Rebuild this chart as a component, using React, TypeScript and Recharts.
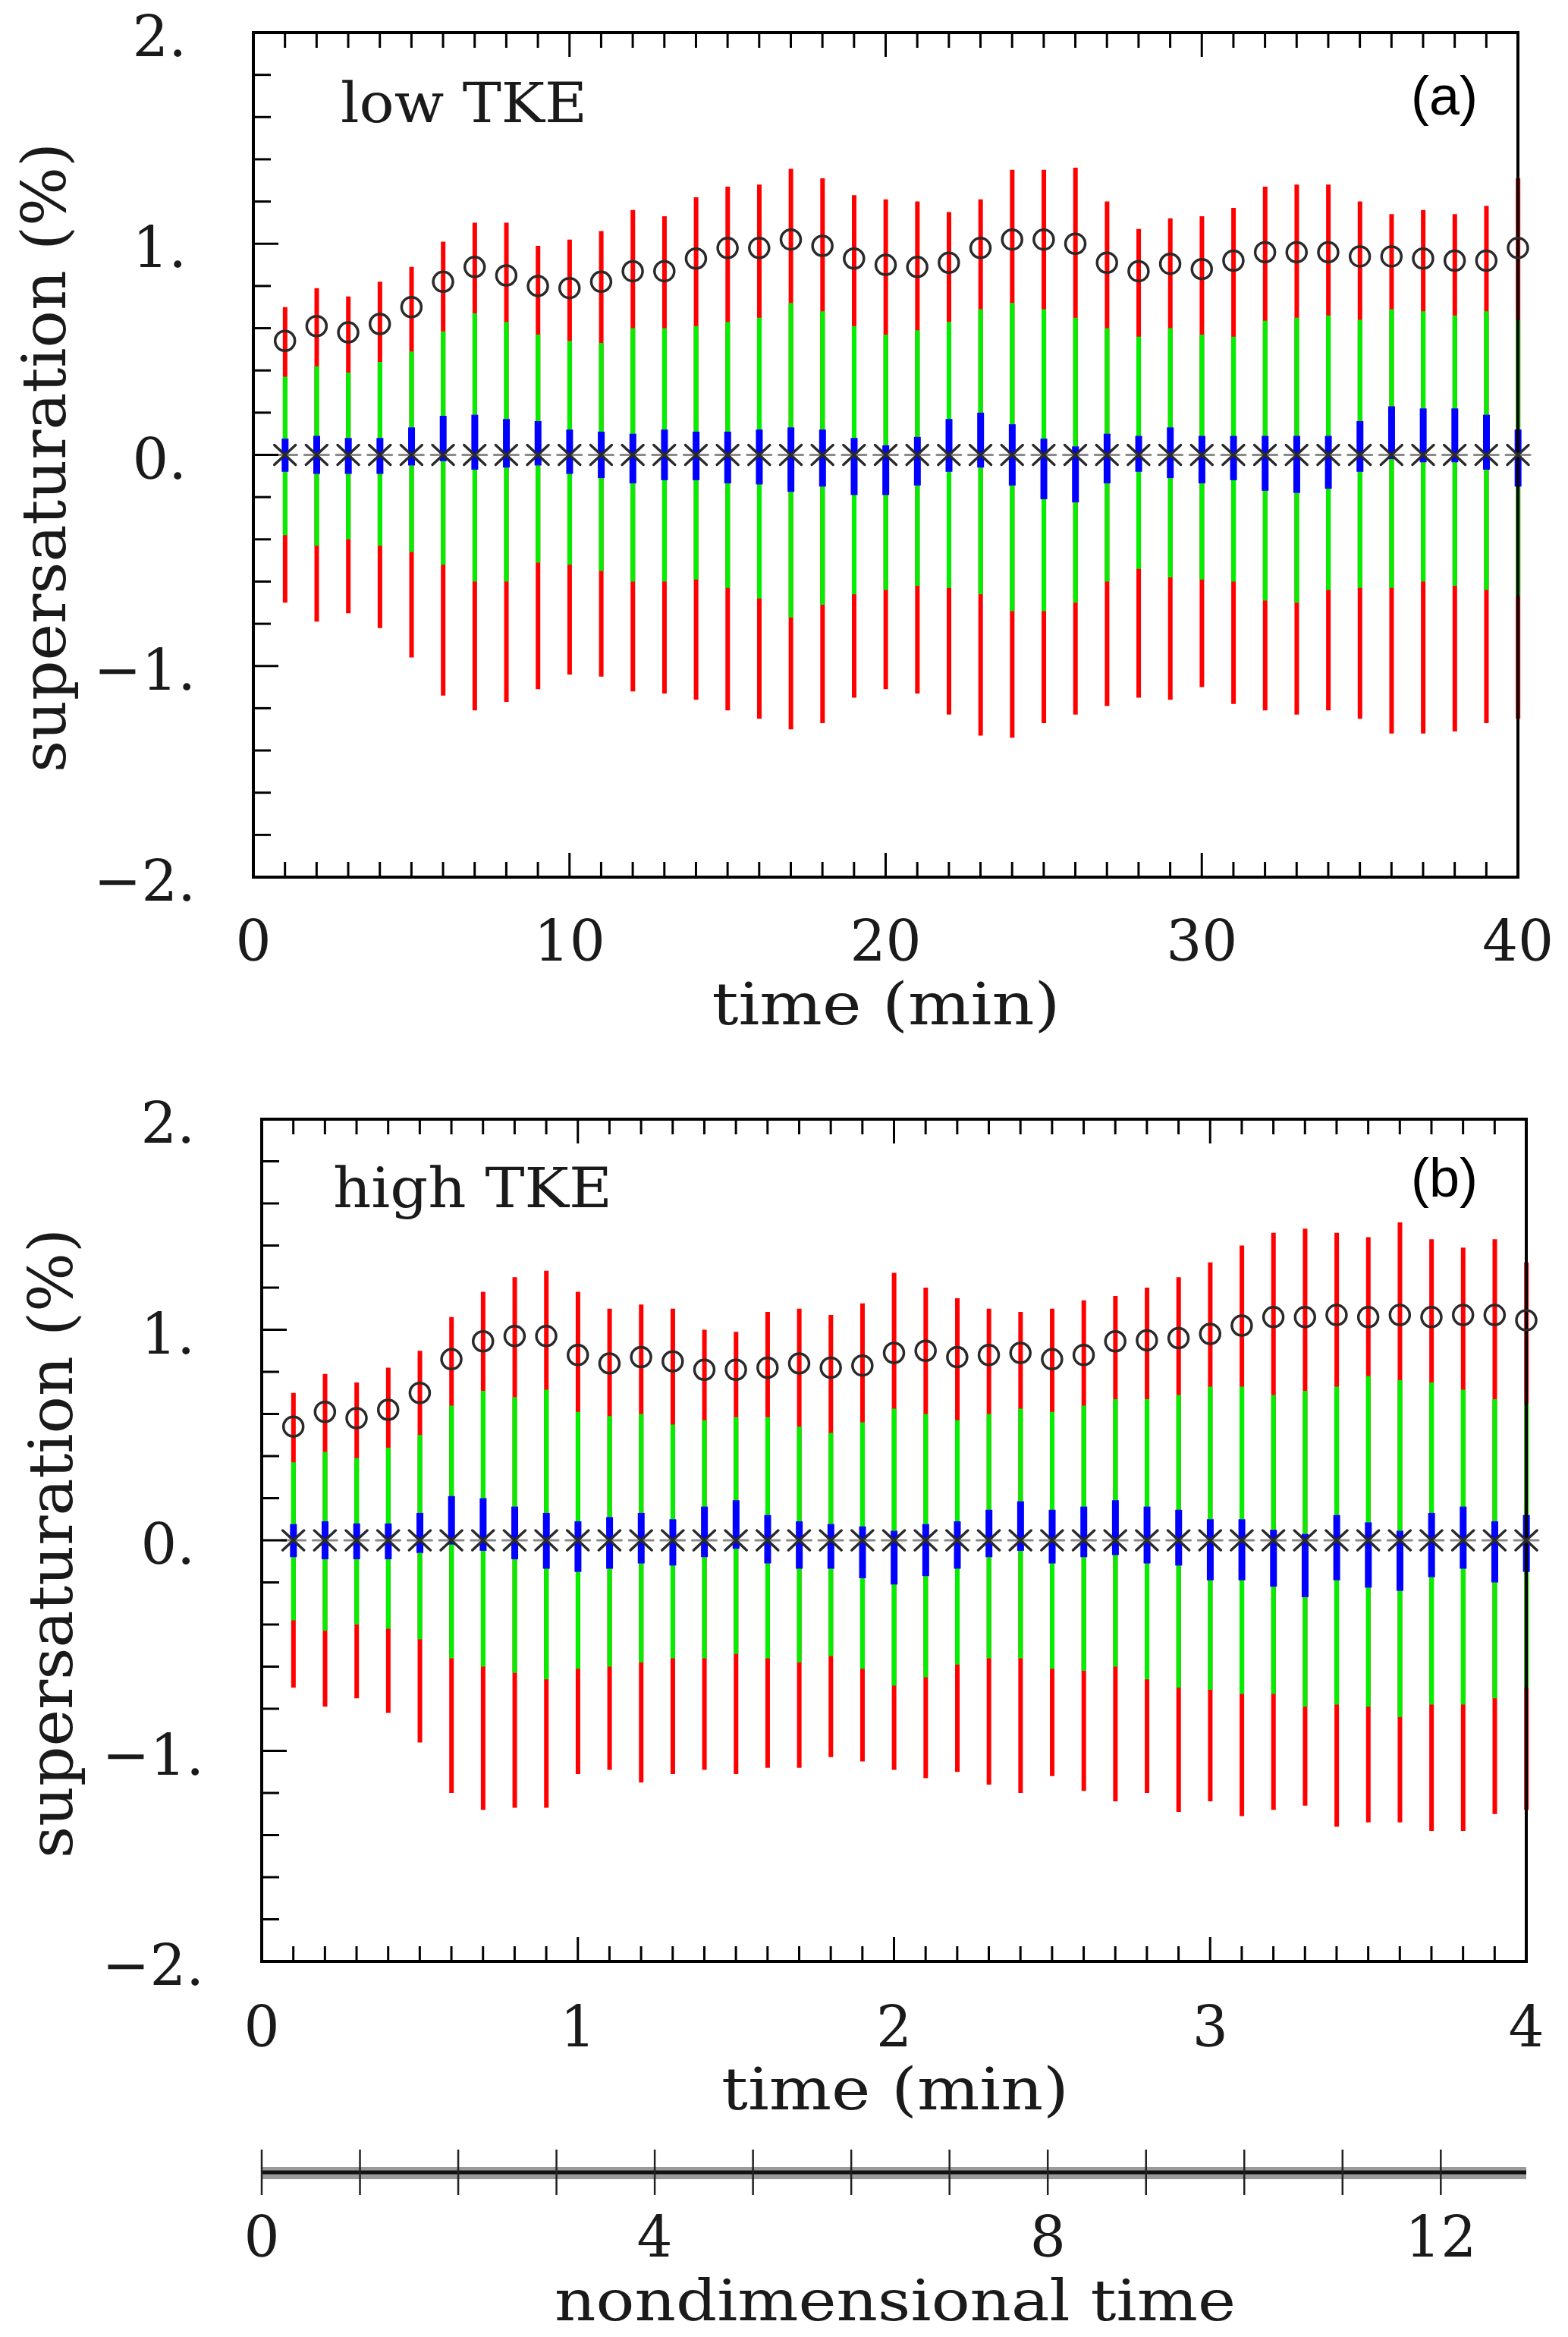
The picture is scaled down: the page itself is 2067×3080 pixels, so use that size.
import React from "react";
import { ComposedChart, Bar, Scatter, XAxis, YAxis } from "recharts";

// ---- panel (a): low TKE, time in minutes ----
const timeA = [1, 2, 3, 4, 5, 6, 7, 8, 9, 10, 11, 12, 13, 14, 15, 16, 17, 18, 19, 20,
  21, 22, 23, 24, 25, 26, 27, 28, 29, 30, 31, 32, 33, 34, 35, 36, 37, 38, 39, 40];
const redHighA = [0.7, 0.79, 0.75, 0.82, 0.89, 1.01, 1.1, 1.1, 0.99, 1.02, 1.06, 1.16, 1.13, 1.22, 1.27, 1.28, 1.355, 1.31, 1.23, 1.21,
  1.2, 1.15, 1.21, 1.35, 1.35, 1.36, 1.2, 1.07, 1.12, 1.13, 1.17, 1.27, 1.28, 1.28, 1.2, 1.14, 1.16, 1.14, 1.18, 1.31];
const greenHighA = [0.37, 0.42, 0.39, 0.44, 0.49, 0.585, 0.67, 0.63, 0.57, 0.54, 0.53, 0.6, 0.6, 0.61, 0.63, 0.65, 0.72, 0.68, 0.61, 0.57,
  0.59, 0.63, 0.69, 0.72, 0.69, 0.65, 0.6, 0.56, 0.6, 0.57, 0.56, 0.635, 0.65, 0.66, 0.64, 0.69, 0.68, 0.66, 0.68, 0.64];
const blueHighA = [0.077, 0.09, 0.08, 0.08, 0.13, 0.185, 0.19, 0.17, 0.16, 0.12, 0.11, 0.1, 0.12, 0.11, 0.11, 0.12, 0.13, 0.12, 0.08, 0.045,
  0.085, 0.17, 0.2, 0.145, 0.077, 0.04, 0.1, 0.09, 0.13, 0.09, 0.09, 0.09, 0.09, 0.09, 0.16, 0.23, 0.22, 0.22, 0.19, 0.12];
const blueLowA = [-0.08, -0.09, -0.09, -0.09, -0.05, -0.03, -0.07, -0.06, -0.05, -0.09, -0.11, -0.135, -0.12, -0.12, -0.135, -0.14, -0.175, -0.15, -0.19, -0.19,
  -0.145, -0.08, -0.06, -0.145, -0.21, -0.225, -0.135, -0.08, -0.11, -0.135, -0.12, -0.17, -0.18, -0.16, -0.08, -0.02, -0.035, -0.035, -0.07, -0.15];
const greenLowA = [-0.38, -0.43, -0.4, -0.43, -0.46, -0.52, -0.6, -0.6, -0.51, -0.52, -0.55, -0.6, -0.6, -0.59, -0.63, -0.68, -0.77, -0.71, -0.66, -0.64,
  -0.62, -0.63, -0.66, -0.74, -0.74, -0.7, -0.6, -0.54, -0.58, -0.59, -0.6, -0.69, -0.7, -0.64, -0.63, -0.63, -0.6, -0.62, -0.64, -0.67];
const redLowA = [-0.7, -0.79, -0.75, -0.82, -0.96, -1.14, -1.21, -1.17, -1.11, -1.04, -1.05, -1.12, -1.13, -1.16, -1.21, -1.25, -1.3, -1.27, -1.15, -1.11,
  -1.13, -1.23, -1.33, -1.34, -1.27, -1.23, -1.19, -1.15, -1.16, -1.1, -1.18, -1.21, -1.23, -1.21, -1.25, -1.32, -1.32, -1.31, -1.27, -1.25];
const medianA = [0, 0, 0, 0, 0, 0, 0, 0, 0, 0, 0, 0, 0, 0, 0, 0, 0, 0, 0, 0,
  0, 0, 0, 0, 0, 0, 0, 0, 0, 0, 0, 0, 0, 0, 0, 0, 0, 0, 0, 0];
const circleA = [0.54, 0.61, 0.58, 0.62, 0.7, 0.82, 0.89, 0.85, 0.8, 0.79, 0.82, 0.87, 0.87, 0.93, 0.98, 0.98, 1.02, 0.99, 0.93, 0.9,
  0.89, 0.91, 0.98, 1.02, 1.02, 1.0, 0.91, 0.87, 0.905, 0.88, 0.92, 0.96, 0.96, 0.96, 0.94, 0.94, 0.93, 0.92, 0.92, 0.98];

// ---- panel (b): high TKE ----
const timeB = [0.1, 0.2, 0.3, 0.4, 0.5, 0.6, 0.7, 0.8, 0.9, 1.0, 1.1, 1.2, 1.3, 1.4, 1.5, 1.6, 1.7, 1.8, 1.9, 2.0,
  2.1, 2.2, 2.3, 2.4, 2.5, 2.6, 2.7, 2.8, 2.9, 3.0, 3.1, 3.2, 3.3, 3.4, 3.5, 3.6, 3.7, 3.8, 3.9, 4.0];
const redHighB = [0.7, 0.79, 0.75, 0.82, 0.9, 1.06, 1.18, 1.25, 1.28, 1.18, 1.1, 1.12, 1.1, 1.0, 0.99, 1.085, 1.1, 1.07, 1.125, 1.27,
  1.2, 1.15, 1.1, 1.085, 1.1, 1.14, 1.16, 1.2, 1.25, 1.32, 1.4, 1.46, 1.48, 1.46, 1.44, 1.51, 1.43, 1.39, 1.43, 1.32];
const greenHighB = [0.37, 0.42, 0.39, 0.44, 0.5, 0.64, 0.71, 0.68, 0.715, 0.61, 0.59, 0.6, 0.55, 0.57, 0.585, 0.585, 0.54, 0.51, 0.56, 0.625,
  0.6, 0.57, 0.6, 0.625, 0.61, 0.64, 0.67, 0.67, 0.69, 0.73, 0.73, 0.69, 0.71, 0.73, 0.78, 0.76, 0.75, 0.715, 0.67, 0.65];
const blueHighB = [0.077, 0.09, 0.08, 0.08, 0.13, 0.21, 0.2, 0.16, 0.13, 0.09, 0.11, 0.13, 0.1, 0.16, 0.19, 0.12, 0.09, 0.077, 0.066, 0.045,
  0.077, 0.09, 0.145, 0.185, 0.145, 0.16, 0.19, 0.16, 0.145, 0.1, 0.1, 0.05, 0.03, 0.12, 0.085, 0.045, 0.13, 0.16, 0.09, 0.12];
const blueLowB = [-0.08, -0.09, -0.09, -0.09, -0.06, -0.02, -0.05, -0.09, -0.135, -0.15, -0.135, -0.11, -0.12, -0.08, -0.04, -0.11, -0.135, -0.135, -0.18, -0.21,
  -0.17, -0.135, -0.08, -0.05, -0.11, -0.08, -0.07, -0.11, -0.12, -0.19, -0.19, -0.22, -0.27, -0.19, -0.225, -0.24, -0.175, -0.135, -0.2, -0.15];
const greenLowB = [-0.38, -0.43, -0.4, -0.42, -0.47, -0.56, -0.6, -0.63, -0.66, -0.61, -0.6, -0.58, -0.56, -0.56, -0.54, -0.56, -0.58, -0.55, -0.61, -0.69,
  -0.65, -0.59, -0.56, -0.56, -0.61, -0.62, -0.6, -0.66, -0.7, -0.71, -0.73, -0.73, -0.79, -0.78, -0.79, -0.84, -0.78, -0.78, -0.75, -0.7];
const redLowB = [-0.7, -0.79, -0.75, -0.82, -0.96, -1.2, -1.28, -1.27, -1.27, -1.11, -1.09, -1.15, -1.11, -1.09, -1.11, -1.08, -1.08, -1.03, -1.05, -1.09,
  -1.13, -1.1, -1.16, -1.2, -1.12, -1.19, -1.24, -1.2, -1.29, -1.24, -1.31, -1.28, -1.26, -1.36, -1.34, -1.34, -1.38, -1.38, -1.3, -1.28];
const medianB = [0, 0, 0, 0, 0, 0, 0, 0, 0, 0, 0, 0, 0, 0, 0, 0, 0, 0, 0, 0,
  0, 0, 0, 0, 0, 0, 0, 0, 0, 0, 0, 0, 0, 0, 0, 0, 0, 0, 0, 0];
const circleB = [0.54, 0.61, 0.58, 0.62, 0.7, 0.86, 0.945, 0.97, 0.97, 0.88, 0.84, 0.87, 0.85, 0.81, 0.81, 0.82, 0.84, 0.82, 0.83, 0.89,
  0.9, 0.87, 0.88, 0.89, 0.86, 0.88, 0.945, 0.95, 0.96, 0.98, 1.02, 1.06, 1.06, 1.07, 1.06, 1.07, 1.06, 1.07, 1.07, 1.045];

// ---- ticks and tick labels ----
const yTicks = [-2, -1.8, -1.6, -1.4, -1.2, -1, -0.8, -0.6, -0.4, -0.2, 0, 0.2, 0.4, 0.6, 0.8, 1, 1.2, 1.4, 1.6, 1.8, 2];
const yLabelValues = [-2, -1, 0, 1, 2];
const yLabelTexts = ["\u22122.", "\u22121.", "0.", "1.", "2."];

const xTicksA = [0, 1, 2, 3, 4, 5, 6, 7, 8, 9, 10, 11, 12, 13, 14, 15, 16, 17, 18, 19, 20,
  21, 22, 23, 24, 25, 26, 27, 28, 29, 30, 31, 32, 33, 34, 35, 36, 37, 38, 39, 40];
const xLabelValuesA = [0, 10, 20, 30, 40];
const xLabelTextsA = ["0", "10", "20", "30", "40"];

const xTicksB = [0, 0.1, 0.2, 0.3, 0.4, 0.5, 0.6, 0.7, 0.8, 0.9, 1, 1.1, 1.2, 1.3, 1.4, 1.5, 1.6, 1.7, 1.8, 1.9, 2,
  2.1, 2.2, 2.3, 2.4, 2.5, 2.6, 2.7, 2.8, 2.9, 3, 3.1, 3.2, 3.3, 3.4, 3.5, 3.6, 3.7, 3.8, 3.9, 4];
const xLabelValuesB = [0, 1, 2, 3, 4];
const xLabelTextsB = ["0", "1", "2", "3", "4"];

const nondimTicks = [0, 1, 2, 3, 4, 5, 6, 7, 8, 9, 10, 11, 12];
const nondimLabelValues = [0, 4, 8, 12];
const nondimLabelTexts = ["0", "4", "8", "12"];
const nondimMax = 12.87;

const SERIF = "'DejaVu Serif', serif";
const INK = "#1a1a1a";

function buildRows(t: number[], rl: number[], gl: number[], bl: number[], bh: number[], gh: number[], rh: number[], med: number[], circ: number[]) {
  return t.map((v, i) => ({
    t: v,
    red: [rl[i], rh[i]],
    green: [gl[i], gh[i]],
    blue: [bl[i], bh[i]],
    med: med[i],
    circ: circ[i],
  }));
}

const rowsA = buildRows(timeA, redLowA, greenLowA, blueLowA, blueHighA, greenHighA, redHighA, medianA, circleA);
const rowsB = buildRows(timeB, redLowB, greenLowB, blueLowB, blueHighB, greenHighB, redHighB, medianB, circleB);

const near = (a: number, b: number) => Math.abs(a - b) < 1e-6;
const findLabel = (vals: number[], v: number) => vals.findIndex((lv) => near(lv, v));

function makeXTick(side: "top" | "bottom", majorStep: number, labelVals: number[], labelTexts: string[], labelDy: number) {
  return (props: any) => {
    const { x, y, payload } = props;
    const v = payload.value;
    const major = near(v / majorStep, Math.round(v / majorStep));
    const len = major ? 32 : 20;
    const dir = side === "bottom" ? -1 : 1;
    const idx = side === "bottom" ? findLabel(labelVals, v) : -1;
    return (
      <g>
        <line x1={x} x2={x} y1={y} y2={y + dir * len} stroke="#000" strokeWidth={3} />
        {idx >= 0 && (
          <text x={x} y={y + labelDy} textAnchor="middle" fontFamily={SERIF} fontSize={74} fill={INK}>
            {labelTexts[idx]}
          </text>
        )}
      </g>
    );
  };
}

function makeYTick(side: "left" | "right") {
  return (props: any) => {
    const { x, y, payload } = props;
    const v = payload.value;
    const major = near(v, Math.round(v));
    const len = major ? 33 : 23;
    const dir = side === "left" ? 1 : -1;
    const idx = side === "left" ? findLabel(yLabelValues, v) : -1;
    return (
      <g>
        <line x1={x} x2={x + dir * len} y1={y} y2={y} stroke="#000" strokeWidth={3} />
        {idx >= 0 && (
          <text x={x - (v < 0 ? 76 : 88)} y={y + 31} textAnchor="end" fontFamily={SERIF} fontSize={75} fill={INK}>
            {yLabelTexts[idx]}
          </text>
        )}
      </g>
    );
  };
}

// X-shaped star with a faint horizontal stroke, as in the plot
const Asterisk = (props: any) => {
  const { cx, cy } = props;
  if (cx == null || cy == null) return <g />;
  return (
    <g strokeLinecap="round">
      <line x1={cx - 16} y1={cy} x2={cx + 16} y2={cy} stroke="#8a8a8a" strokeWidth={3} />
      <line x1={cx - 14} y1={cy - 13} x2={cx + 14} y2={cy + 13} stroke="#2a2a2a" strokeWidth={3.5} />
      <line x1={cx - 14} y1={cy + 13} x2={cx + 14} y2={cy - 13} stroke="#2a2a2a" strokeWidth={3.5} />
    </g>
  );
};

const OpenCircle = (props: any) => {
  const { cx, cy } = props;
  if (cx == null || cy == null) return <g />;
  return <circle cx={cx} cy={cy} r={13} fill="none" stroke="#2a2a2a" strokeWidth={3.5} />;
};

const WideBar = (props: any) => {
  const { x, y, width, height, fill } = props;
  if (x == null || y == null) return <g />;
  const w = 9;
  return <rect x={x + width / 2 - w / 2} y={y} width={w} height={Math.max(height, 0)} fill={fill} />;
};

const frameLine = { stroke: "#000", strokeWidth: 4, strokeLinecap: "square" as const };

function Panel({ rows, xMax, xTicks, majorStep, labelVals, labelTexts, labelDy, margin, height }: any) {
  return (
    <ComposedChart width={2067} height={height} data={rows} margin={margin} barGap={-6}>
      <XAxis xAxisId="b" orientation="bottom" dataKey="t" type="number" domain={[0, xMax]} ticks={xTicks}
        interval={0} height={1} tickSize={0} tickMargin={0} tickLine={false} axisLine={frameLine}
        tick={makeXTick("bottom", majorStep, labelVals, labelTexts, labelDy)} />
      <XAxis xAxisId="t" orientation="top" dataKey="t" type="number" domain={[0, xMax]} ticks={xTicks}
        interval={0} height={1} tickSize={0} tickMargin={0} tickLine={false} axisLine={frameLine}
        tick={makeXTick("top", majorStep, labelVals, labelTexts, labelDy)} />
      <YAxis yAxisId="l" orientation="left" type="number" domain={[-2, 2]} ticks={yTicks} interval={0}
        width={1} tickSize={0} tickMargin={0} tickLine={false} axisLine={frameLine} tick={makeYTick("left")} />
      <YAxis yAxisId="r" orientation="right" type="number" domain={[-2, 2]} ticks={yTicks} interval={0}
        width={1} tickSize={0} tickMargin={0} tickLine={false} axisLine={frameLine} tick={makeYTick("right")} />
      <Bar xAxisId="b" yAxisId="l" dataKey="red" barSize={6} fill="#ff0000" isAnimationActive={false} />
      <Bar xAxisId="b" yAxisId="l" dataKey="green" barSize={6} fill="#00f000" isAnimationActive={false} />
      <Bar xAxisId="b" yAxisId="l" dataKey="blue" barSize={6} fill="#0000ff" shape={WideBar} isAnimationActive={false} />
      <Scatter xAxisId="b" yAxisId="l" dataKey="circ" shape={OpenCircle} isAnimationActive={false} />
      <Scatter xAxisId="b" yAxisId="l" dataKey="med" shape={Asterisk} isAnimationActive={false} />
    </ComposedChart>
  );
}

const nondimRows = nondimTicks.map((n) => ({ n, y: 0 }));

const nondimTick = (props: any) => {
  const { x, y, payload } = props;
  const idx = findLabel(nondimLabelValues, payload.value);
  return (
    <g>
      <line x1={x} x2={x} y1={y - 30} y2={y + 30} stroke="#222" strokeWidth={2.5} />
      {idx >= 0 && (
        <text x={x} y={y + 111} textAnchor="middle" fontFamily={SERIF} fontSize={74} fill={INK}>
          {nondimLabelTexts[idx]}
        </text>
      )}
    </g>
  );
};

export default function App() {
  return (
    <div style={{ position: "absolute", left: 0, top: 0, width: 2067, height: 3080, background: "#fff", overflow: "hidden" }}>
      <div style={{ position: "absolute", left: 0, top: 0 }}>
        <Panel rows={rowsA} xMax={40} xTicks={xTicksA} majorStep={10} labelVals={xLabelValuesA} labelTexts={xLabelTextsA}
          labelDy={110} height={1440} margin={{ top: 42, left: 333, right: 65, bottom: 283 }} />
      </div>
      <div style={{ position: "absolute", left: 0, top: 1432 }}>
        <Panel rows={rowsB} xMax={4} xTicks={xTicksB} majorStep={1} labelVals={xLabelValuesB} labelTexts={xLabelTextsB}
          labelDy={112} height={1400} margin={{ top: 42, left: 344, right: 54, bottom: 246 }} />
      </div>
      <div style={{ position: "absolute", left: 0, top: 2800 }}>
        <ComposedChart width={2067} height={280} data={nondimRows} margin={{ top: 0, left: 345, right: 55, bottom: 215 }}>
          <XAxis xAxisId="halo" dataKey="n" type="number" domain={[0, nondimMax]} ticks={nondimTicks} height={1}
            tick={false} tickLine={false} axisLine={{ stroke: "#9a9a9a", strokeWidth: 16 }} />
          <XAxis xAxisId="core" dataKey="n" type="number" domain={[0, nondimMax]} ticks={nondimTicks} interval={0} height={1}
            tickSize={0} tickMargin={0} tickLine={false} axisLine={{ stroke: "#111", strokeWidth: 5 }} tick={nondimTick} />
          <YAxis yAxisId="h" hide domain={[0, 1]} />
          <Scatter xAxisId="core" yAxisId="h" dataKey="y" shape={() => <g />} isAnimationActive={false} />
        </ComposedChart>
      </div>
      <svg width={2067} height={3080} style={{ position: "absolute", left: 0, top: 0, pointerEvents: "none" }}>
        <g fontFamily={SERIF} fill={INK}>
          <text x={86} y={603} transform="rotate(-90 86 603)" textAnchor="middle" fontSize={80} textLength={830} lengthAdjust="spacingAndGlyphs">
            supersaturation (%)
          </text>
          <text x={95} y={2034} transform="rotate(-90 95 2034)" textAnchor="middle" fontSize={80} textLength={830} lengthAdjust="spacingAndGlyphs">
            supersaturation (%)
          </text>
          <text x={1168} y={1350} textAnchor="middle" fontSize={76} textLength={459} lengthAdjust="spacingAndGlyphs">time (min)</text>
          <text x={1180} y={2780} textAnchor="middle" fontSize={76} textLength={458} lengthAdjust="spacingAndGlyphs">time (min)</text>
          <text x={1180} y={3058} textAnchor="middle" fontSize={74} textLength={898} lengthAdjust="spacingAndGlyphs">nondimensional time</text>
          <text x={449} y={161} fontSize={72} textLength={325} lengthAdjust="spacingAndGlyphs">low TKE</text>
          <text x={439} y={1591} fontSize={72} textLength={368} lengthAdjust="spacingAndGlyphs">high TKE</text>
        </g>
        <g fontFamily="'Liberation Sans', Arial, sans-serif" fill="#000" fontSize={72}>
          <text x={1860} y={151}>(a)</text>
          <text x={1860} y={1577}>(b)</text>
        </g>
      </svg>
    </div>
  );
}
